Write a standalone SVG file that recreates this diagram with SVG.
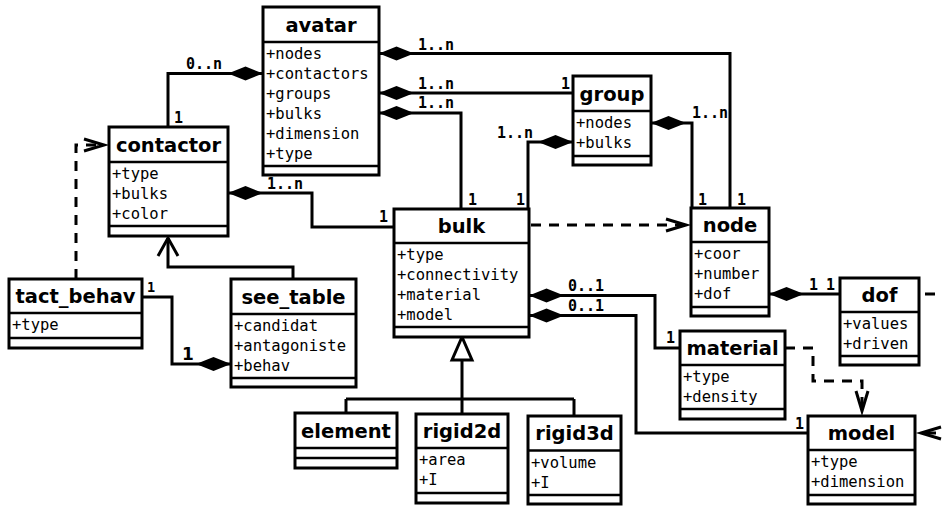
<svg xmlns="http://www.w3.org/2000/svg" width="942" height="506" viewBox="0 0 942 506">
<style>
.box{fill:#fff;stroke:#000;stroke-width:3}
.dv{stroke:#000;stroke-width:2.5}
.t{font-family:"DejaVu Sans","Liberation Sans",sans-serif;font-weight:bold;font-size:19.5px;text-anchor:middle;fill:#000}
.a{font-family:"DejaVu Sans Mono","Liberation Mono",monospace;font-size:15.5px;fill:#000}
.l{font-family:"DejaVu Sans Mono","Liberation Mono",monospace;font-weight:bold;font-size:15px;fill:#000}
.c{fill:none;stroke:#000;stroke-width:3}
.d{stroke-dasharray:10,8}
.cmp{marker-start:url(#dia)}
.dep{marker-end:url(#dep)}
</style>
<defs>
<marker id="dia" markerUnits="userSpaceOnUse" markerWidth="36" markerHeight="16" refX="0" refY="0" orient="auto" overflow="visible"><path d="M0,0 L17.5,-7 L35,0 L17.5,7 Z" fill="#000"/></marker>
<marker id="dep" markerUnits="userSpaceOnUse" markerWidth="24" markerHeight="16" refX="0" refY="0" orient="auto" overflow="visible"><path d="M-20,-6 L0,0 L-20,6" fill="none" stroke="#000" stroke-width="3"/></marker>
<marker id="gen" markerUnits="userSpaceOnUse" markerWidth="24" markerHeight="24" refX="0" refY="0" orient="auto" overflow="visible"><path d="M-18,-10 L0,0 L-18,10" fill="none" stroke="#000" stroke-width="3"/></marker>
</defs>
<rect width="942" height="506" fill="#fff"/>

<g id="connectors">
<path class="c cmp" d="M379,53.5 H730 V208"/>
<path class="c cmp" d="M379,93 H573"/>
<path class="c cmp" d="M379,113 H461 V209"/>
<path class="c cmp" d="M263,73.5 H168 V127"/>
<path class="c cmp" d="M228,193 H312 V227 H394"/>
<path class="c cmp" d="M573,142 H528 V209"/>
<path class="c cmp" d="M651,123 H692 V208"/>
<path class="c d dep" d="M531,225 H686"/>
<path class="c" d="M293,279 V267 H168 V238" marker-end="url(#gen)"/>
<path class="c d dep" d="M76,279 V145 H104"/>
<path class="c cmp" d="M231,364 H172 V297 H142"/>
<path class="c cmp" d="M769,294 H840"/>
<path class="c cmp" d="M529,295.5 H655 V348 H680"/>
<path class="c cmp" d="M529,315.5 H636 V433 H808"/>
<path class="c d dep" d="M785,348 H813 V381 H862 V411"/>
<path class="c d dep" d="M925,294 H960 V433 H921"/>
<polygon points="462,337 452,360 472,360" fill="#fff" stroke="#000" stroke-width="3"/>
<path class="c" d="M462,360 V399 M346,399 H574 M346,399 V413 M462,399 V414 M574,399 V416"/>
<text class="l" x="418" y="50">1..n</text>
<text class="l" x="737" y="205">1</text>
<text class="l" x="418" y="89">1..n</text>
<text class="l" x="561" y="89">1</text>
<text class="l" x="418" y="108">1..n</text>
<text class="l" x="468" y="205">1</text>
<text class="l" x="186" y="69">0..n</text>
<text class="l" x="174" y="123">1</text>
<text class="l" x="267" y="189">1..n</text>
<text class="l" x="379" y="222">1</text>
<text class="l" x="497" y="138">1..n</text>
<text class="l" x="516" y="205">1</text>
<text class="l" x="692" y="118">1..n</text>
<text class="l" x="698" y="205">1</text>
<text x="182" y="360" style="font-family:'DejaVu Sans',sans-serif;font-weight:bold;font-size:17px">1</text>
<text class="l" x="147" y="292" style="font-size:13.5px">1</text>
<text class="l" x="809" y="290">1</text>
<text class="l" x="826" y="290">1</text>
<text class="l" x="568" y="291">0..1</text>
<text class="l" x="666" y="343">1</text>
<text class="l" x="568" y="311">0..1</text>
<text class="l" x="795" y="429">1</text>
</g>

<g id="avatar">
<rect class="box" x="263" y="7" width="116" height="168"/>
<line class="dv" x1="263" y1="42" x2="379" y2="42"/>
<line class="dv" x1="263" y1="166" x2="379" y2="166"/>
<text class="t" x="321" y="31.5">avatar</text>
<text class="a" x="266" y="59">+nodes</text>
<text class="a" x="266" y="79">+contactors</text>
<text class="a" x="266" y="99">+groups</text>
<text class="a" x="266" y="119">+bulks</text>
<text class="a" x="266" y="139">+dimension</text>
<text class="a" x="266" y="159">+type</text>
</g>

<g id="contactor">
<rect class="box" x="109" y="127" width="119" height="109"/>
<line class="dv" x1="109" y1="162" x2="228" y2="162"/>
<line class="dv" x1="109" y1="226" x2="228" y2="226"/>
<text class="t" x="168.5" y="151.5">contactor</text>
<text class="a" x="112" y="179">+type</text>
<text class="a" x="112" y="199">+bulks</text>
<text class="a" x="112" y="219">+color</text>
</g>

<g id="group">
<rect class="box" x="573" y="76" width="78" height="89"/>
<line class="dv" x1="573" y1="111" x2="651" y2="111"/>
<line class="dv" x1="573" y1="156" x2="651" y2="156"/>
<text class="t" x="612" y="100.5">group</text>
<text class="a" x="576" y="128">+nodes</text>
<text class="a" x="576" y="148">+bulks</text>
</g>

<g id="bulk">
<rect class="box" x="394" y="209" width="135" height="128"/>
<line class="dv" x1="394" y1="243" x2="529" y2="243"/>
<line class="dv" x1="394" y1="327" x2="529" y2="327"/>
<text class="t" x="461.5" y="233">bulk</text>
<text class="a" x="397" y="260">+type</text>
<text class="a" x="397" y="280">+connectivity</text>
<text class="a" x="397" y="300">+material</text>
<text class="a" x="397" y="320">+model</text>
</g>

<g id="node">
<rect class="box" x="691" y="208" width="78" height="108"/>
<line class="dv" x1="691" y1="242" x2="769" y2="242"/>
<line class="dv" x1="691" y1="307" x2="769" y2="307"/>
<text class="t" x="730" y="232">node</text>
<text class="a" x="694" y="259">+coor</text>
<text class="a" x="694" y="279">+number</text>
<text class="a" x="694" y="299">+dof</text>
</g>

<g id="dof">
<rect class="box" x="840" y="278" width="79" height="87"/>
<line class="dv" x1="840" y1="312" x2="919" y2="312"/>
<line class="dv" x1="840" y1="356" x2="919" y2="356"/>
<text class="t" x="879.5" y="302">dof</text>
<text class="a" x="843" y="329">+values</text>
<text class="a" x="843" y="349">+driven</text>
</g>

<g id="material">
<rect class="box" x="680" y="331" width="105" height="88"/>
<line class="dv" x1="680" y1="365" x2="785" y2="365"/>
<line class="dv" x1="680" y1="409" x2="785" y2="409"/>
<text class="t" x="732.5" y="355">material</text>
<text class="a" x="683" y="382">+type</text>
<text class="a" x="683" y="402">+density</text>
</g>

<g id="model">
<rect class="box" x="808" y="416" width="107" height="88"/>
<line class="dv" x1="808" y1="450" x2="915" y2="450"/>
<line class="dv" x1="808" y1="495" x2="915" y2="495"/>
<text class="t" x="861.5" y="440">model</text>
<text class="a" x="811" y="467">+type</text>
<text class="a" x="811" y="487">+dimension</text>
</g>

<g id="tact_behav">
<rect class="box" x="9" y="279" width="133" height="69"/>
<line class="dv" x1="9" y1="313" x2="142" y2="313"/>
<line class="dv" x1="9" y1="338" x2="142" y2="338"/>
<text class="t" x="75.5" y="303">tact_behav</text>
<text class="a" x="12" y="330">+type</text>
</g>

<g id="see_table">
<rect class="box" x="231" y="279" width="125" height="108"/>
<line class="dv" x1="231" y1="314" x2="356" y2="314"/>
<line class="dv" x1="231" y1="378" x2="356" y2="378"/>
<text class="t" x="293.5" y="303.5">see_table</text>
<text class="a" x="234" y="331">+candidat</text>
<text class="a" x="234" y="351">+antagoniste</text>
<text class="a" x="234" y="371">+behav</text>
</g>

<g id="element">
<rect class="box" x="295" y="413" width="102" height="55"/>
<line class="dv" x1="295" y1="448" x2="397" y2="448"/>
<line class="dv" x1="295" y1="458" x2="397" y2="458"/>
<text class="t" x="346" y="437.5">element</text>
</g>

<g id="rigid2d">
<rect class="box" x="416" y="414" width="92" height="89"/>
<line class="dv" x1="416" y1="448" x2="508" y2="448"/>
<line class="dv" x1="416" y1="493" x2="508" y2="493"/>
<text class="t" x="462" y="438">rigid2d</text>
<text class="a" x="419" y="465">+area</text>
<text class="a" x="419" y="485">+I</text>
</g>

<g id="rigid3d">
<rect class="box" x="528" y="416" width="93" height="88"/>
<line class="dv" x1="528" y1="450.5" x2="621" y2="450.5"/>
<line class="dv" x1="528" y1="495" x2="621" y2="495"/>
<text class="t" x="574.5" y="440">rigid3d</text>
<text class="a" x="531" y="467.5">+volume</text>
<text class="a" x="531" y="487.5">+I</text>
</g>
</svg>
